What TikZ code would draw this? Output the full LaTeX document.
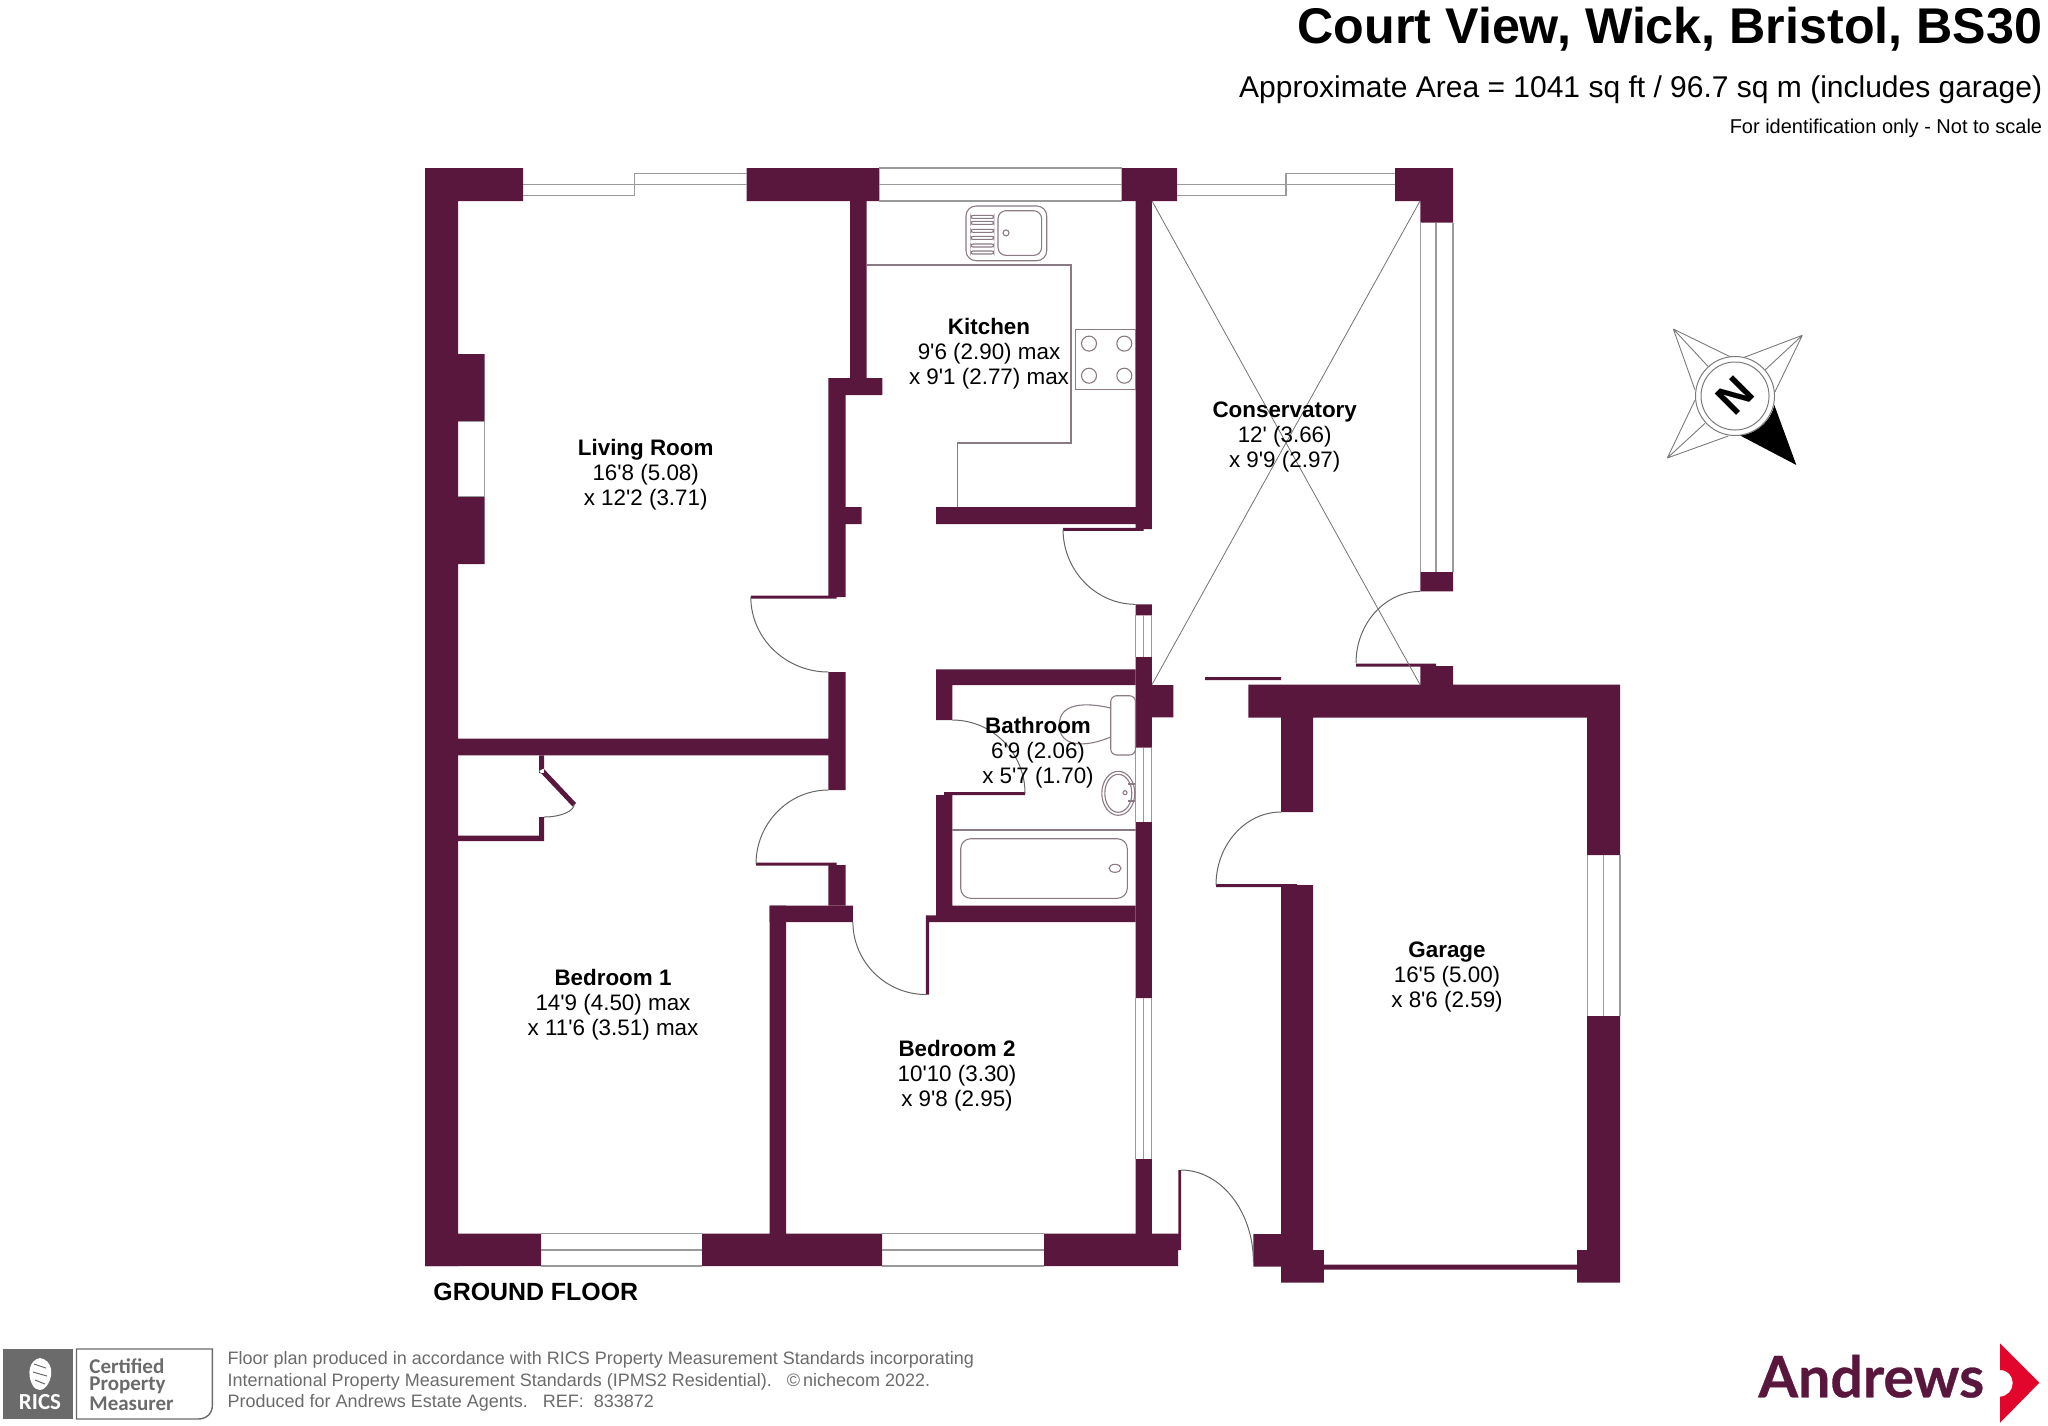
\documentclass[tikz,border=0pt]{standalone}
\usepackage{fontspec}
\usetikzlibrary{positioning}
\newfontfamily\planfont{Liberation Sans}
\newfontfamily\certfont{Carlito}
\newfontfamily\logofont{Lato}[BoldFeatures={FakeBold=0.5}]
\definecolor{wallcol}{HTML}{5A173E}
\definecolor{glasscol}{HTML}{9A9A9A}
\definecolor{fitcol}{HTML}{8A7A84}
\definecolor{footcol}{HTML}{6B6B6B}
\definecolor{logored}{HTML}{E2062C}
\newcommand{\swing}[4]{(#1,#2) .. controls (#1,{#2+.55*(#4-#2)}) and ({#3+.55*(#1-#3)},#4) .. (#3,#4)}
\tikzset{
  wall/.style={fill=wallcol},
  glass/.style={draw=glasscol,line width=.6pt},
  fitting/.style={draw=fitcol,line width=.55pt},
  doorarc/.style={draw=black!60,line width=.5pt},
  roof/.style={draw=black!55,line width=.4pt},
  roomlabel/.style={font=\planfont\fontsize{11.2}{12.5}\selectfont,align=center,inner sep=0pt},
  footline/.style={font=\planfont\fontsize{9}{10}\selectfont,text=footcol,anchor=west,inner sep=0pt},
  certline/.style={font=\certfont\bfseries\fontsize{10.5}{12}\selectfont,text=footcol,anchor=west,inner sep=0pt}
}
\begin{document}
\begin{tikzpicture}[x=0.5pt,y=-0.5pt]
    \useasboundingbox (0,0) rectangle (2048,1425);
    \fill[wall] (425,168) rectangle (523,201) (746.7,168) rectangle (879.4,201)
      (1121.5,168) rectangle (1177,201) (1395,168) rectangle (1453,201)
      (1420.4,201) rectangle (1453,222.5) (425,168) rectangle (458,1266)
      (458,354) rectangle (484.5,421.4) (458,496.4) rectangle (484.5,564);
    \fill[wall] (850,201) rectangle (866.6,378) (828.4,378) rectangle (882.4,395)
      (828.4,395) rectangle (845.7,597) (750.8,595.5) rectangle (836.5,598.5)
      (845.7,507) rectangle (861.5,524) (1135.5,201) rectangle (1151.8,529)
      (936,507) rectangle (1135.5,524) (1063,527.8) rectangle (1143.7,530.8);
    \fill[wall] (1420.4,572) rectangle (1453,591.4) (1420.4,666) rectangle (1453,685)
      (1356,663.5) rectangle (1436,666.5) (1205,677) rectangle (1281,680);
    \fill[wall] (1135.5,604.3) rectangle (1151.8,615.4) (1135.5,657) rectangle (1151.8,747.5)
      (1151.8,685) rectangle (1173.3,717.3) (1135.5,822) rectangle (1151.8,998)
      (1135.5,1159) rectangle (1151.8,1234);
    \fill[wall] (936,669.3) rectangle (1135.5,685) (936,685) rectangle (952.3,720)
      (936,795) rectangle (952.3,906) (944,792) rectangle (1025,795)
      (769.7,905.5) rectangle (852.9,922) (936,905.5) rectangle (1135.5,922)
      (929,915.4) rectangle (936,922) (925.8,915.4) rectangle (929,994.5);
    \fill[wall] (458,738.7) rectangle (828.4,755.3) (828.4,738.7) rectangle (845.7,790)
      (828.4,672) rectangle (845.7,738.7) (828.4,865) rectangle (845.7,905.5)
      (756,862.5) rectangle (836.5,865.5) (769.7,905.5) rectangle (786,1234);
    \fill[wall] (425,1233.6) rectangle (541,1266) (702,1233.6) rectangle (882,1266)
      (1044,1233.6) rectangle (1178,1266) (1178,1233.6) rectangle (1181,1250)
      (1178.3,1170) rectangle (1181,1250);
    \fill[wall] (539,755.3) rectangle (544,773) (539,817) rectangle (544,841)
      (458,835.6) rectangle (544,841) (539,771) -- (543.5,768.5) -- (576,803) -- (572.5,806.5) -- cycle;
    \fill[wall] (1248.3,684.7) rectangle (1620,717.6) (1281,717.6) rectangle (1313,812)
      (1281,885) rectangle (1313,1282.7) (1216,884) rectangle (1297,887)
      (1587.2,717.6) rectangle (1620,855) (1587.2,1016) rectangle (1620,1282.7)
      (1253.4,1234) rectangle (1281,1266.6) (1313,1250) rectangle (1323.8,1282.7)
      (1577,1250) rectangle (1587.2,1282.7) (1323.8,1264.5) rectangle (1577,1269.6);

    \draw[glass] (523,195.7) -- (634.5,195.7) -- (634.5,173.6) -- (746.7,173.6) (523,184.6) -- (746.7,184.6);
    \draw[glass] (879.4,168) -- (1121.5,168) (879.4,184.6) -- (1121.5,184.6) (879.4,201) -- (1121.5,201);
    \draw[glass] (1177,195.7) -- (1286,195.7) -- (1286,173.6) -- (1395,173.6) (1177,184.6) -- (1395,184.6);
    \draw[glass] (1420.4,222.5) -- (1420.4,572) (1436,222.5) -- (1436,572) (1453,222.5) -- (1453,572);
    \draw[glass] (1587.2,855) -- (1587.2,1016) (1603.6,855) -- (1603.6,1016) (1620,855) -- (1620,1016);
    \draw[glass] (541,1233.6) -- (702,1233.6) (541,1250) -- (702,1250) (541,1266) -- (702,1266);
    \draw[glass] (882,1233.6) -- (1044,1233.6) (882,1250) -- (1044,1250) (882,1266) -- (1044,1266);
    \foreach \ya/\yb in {615.4/657,747.5/822,998/1159}
      \draw[glass] (1135.5,\ya) -- (1135.5,\yb) (1143.6,\ya) -- (1143.6,\yb) (1151.8,\ya) -- (1151.8,\yb);
    \draw[glass] (458,421.4) -- (484.5,421.4) -- (484.5,496.4) -- (458,496.4);

    \draw[roof] (1152,201) -- (1420,684.6) (1420,201) -- (1152,684.6);
    \draw[doorarc] \swing{750.8}{597}{828.4}{672};
    \draw[doorarc] \swing{1063}{529}{1135.5}{604.3};
    \draw[doorarc] \swing{756}{864}{828.4}{790};
    \draw[doorarc] \swing{852.9}{922}{926}{994.5};
    \draw[doorarc] \swing{1025}{793.3}{952.3}{720};
    \draw[doorarc] \swing{1356}{663}{1420.4}{591.4};
    \draw[doorarc] \swing{1216}{885}{1281}{812};
    \draw[doorarc] \swing{1253.4}{1262}{1181}{1170};
    \draw[doorarc] \swing{574.3}{804}{544}{817};

    \draw[fitting] (866.6,265) -- (1071,265) -- (1071,443) -- (957.5,443) -- (957.5,507);
    \draw[fitting] (1075.8,329.6) rectangle (1135.5,389.3);
    \foreach \hx in {1089,1124.3}
      \foreach \hy in {343.6,375.7}
        \draw[fitting] (\hx,\hy) ellipse [x radius=7.5,y radius=7.5];
    \draw[fitting] (966,206) [rounded corners=5pt] rectangle (1046.7,260.7);
    \draw[fitting] (998,210.7) [rounded corners=4pt] rectangle (1041.6,255.4);
    \foreach \ry in {215.4,221.4,229.3,236.4,244,251}
      \draw[fitting] (971,\ry) [rounded corners=1pt] rectangle (993.7,\ry+3);
    \draw[fitting] (1006,232.9) circle [radius=3];

    \draw[fitting] (952.3,830) -- (1135.5,830);
    \draw[fitting] (960.7,838.7) [rounded corners=5pt] rectangle (1127.3,898.3);
    \draw[fitting] (1115,868.3) ellipse [x radius=6,y radius=4];
    \draw[fitting] (1110.7,695.7) [rounded corners=3pt] rectangle (1135.5,755);
    \draw[fitting] (1110.7,708) .. controls (1085,702) and (1059,703) .. (1059.3,725)
      .. controls (1059,747) and (1085,748) .. (1110.7,737);
    \draw[fitting] (1118.3,793.3) ellipse [x radius=16.5,y radius=22];
    \draw[fitting] (1118.3,793.3) ellipse [x radius=13.5,y radius=19];
    \draw[fitting] (1125,792.7) circle [radius=2];
    \draw[fitting] (1128,784) -- (1135,784) (1128,801) -- (1135,801);

    \node[roomlabel] (living) at (645.7,474.5) {\textbf{Living Room}\\16'8 (5.08)\\x 12'2 (3.71)};
    \node[roomlabel] (kitchen) at (989,354) {\textbf{Kitchen}\\9'6 (2.90) max\\x 9'1 (2.77) max};
    \node[roomlabel] (conserv) at (1284.7,437) {\textbf{Conservatory}\\12' (3.66)\\x 9'9 (2.97)};
    \node[roomlabel] (bathroom) at (1038,752.5) {\textbf{Bathroom}\\6'9 (2.06)\\x 5'7 (1.70)};
    \node[roomlabel] (bedone) at (613,1005) {\textbf{Bedroom 1}\\14'9 (4.50) max\\x 11'6 (3.51) max};
    \node[roomlabel] (bedtwo) at (957,1076) {\textbf{Bedroom 2}\\10'10 (3.30)\\x 9'8 (2.95)};
    \node[roomlabel] (garage) at (1447,976.5) {\textbf{Garage}\\16'5 (5.00)\\x 8'6 (2.59)};
    \node[anchor=west,inner sep=0pt,font=\planfont\bfseries\fontsize{12.45}{14}\selectfont] (floor) at (433,1291.7) {GROUND FLOOR};

    \node[anchor=east,inner sep=0pt,font=\planfont\bfseries\fontsize{25.1}{28}\selectfont] (title) at (2042.5,29) {Court View, Wick, Bristol, BS30};
    \node[anchor=east,inner sep=0pt,font=\planfont\fontsize{15}{17}\selectfont] (area) at (2042.5,90) {Approximate Area = 1041 sq ft / 96.7 sq m (includes garage)};
    \node[anchor=east,inner sep=0pt,font=\planfont\fontsize{10}{11}\selectfont] (idonly) at (2042.5,128) {For identification only - Not to scale};

    \draw[glasscol!80!black,line width=.45pt] (1673.3,329) -- (1730,356.7) (1673.3,329) -- (1695,390) (1673.3,329) -- (1708.3,366.7)
      (1802.3,335.3) -- (1743.3,357.7) (1802.3,335.3) -- (1775,391.7) (1802.3,335.3) -- (1765,370)
      (1667.3,458) -- (1695,400) (1667.3,458) -- (1728.3,436) (1667.3,458) -- (1705,423.3);
    \fill[black] (1796.3,465) -- (1774.3,405) arc[start angle=13,end angle=84,radius=39.5] -- cycle;
    \draw[glasscol!80!black,line width=.5pt] (1735,396) circle [radius=39.5] (1735,396) circle [radius=34];
    \node[rotate=45,inner sep=0pt,font=\planfont\bfseries\fontsize{22}{24}\selectfont] (north) at (1735,396) {N};

    \fill[footcol] (3,1349) rectangle (72.7,1419);
    \fill[white] (40,1358) .. controls (52,1360) and (54,1374) .. (48,1384) .. controls (43,1392) and (36,1392) .. (32,1384)
      .. controls (27,1374) and (29,1360) .. (40,1358);
    \draw[footcol,line width=.5pt] (34,1364) -- (46,1368) (33,1372) -- (47,1376) (35,1380) -- (45,1384);
    \node[inner sep=0pt,text=white,font=\certfont\bfseries\fontsize{11.5}{12}\selectfont] (rics) at (40,1401.7) {RICS};
    \draw[footcol,line width=.7pt] (76.5,1349) -- (212.4,1349) -- (212.4,1405) .. controls (212.4,1414) and (206,1419) .. (198,1419) -- (76.5,1419) -- cycle;
    \node[certline] (certa) at (89,1366) {Certified};
    \node[certline] (certb) at (89,1385.7) {Property};
    \node[certline] (certc) at (89,1404) {Measurer};
    \node[footline] (foota) at (227.3,1360) {Floor plan produced in accordance with RICS Property Measurement Standards incorporating};
    \node[footline] (footb) at (227.3,1381.7) {International Property Measurement Standards (IPMS2 Residential).\ \ \ \textcopyright\,nichecom 2022.};
    \node[footline] (footc) at (227.3,1403.3) {Produced for Andrews Estate Agents.\ \ \ REF:\ \ 833872};

    \node[anchor=base west,inner sep=0pt,text=wallcol,font=\logofont\bfseries\fontsize{28.6}{32}\selectfont] (andrews) at (1758,1397.3) {Andrews};
    \fill[logored] (2000,1343.3) -- (2039.3,1382.7) -- (2000,1422.7) -- (2000,1396.7)
      .. controls (2008,1396) and (2012.7,1390) .. (2012.7,1383) .. controls (2012.7,1376) and (2008,1370) .. (2000,1370) -- cycle;
\end{tikzpicture}
\end{document}
